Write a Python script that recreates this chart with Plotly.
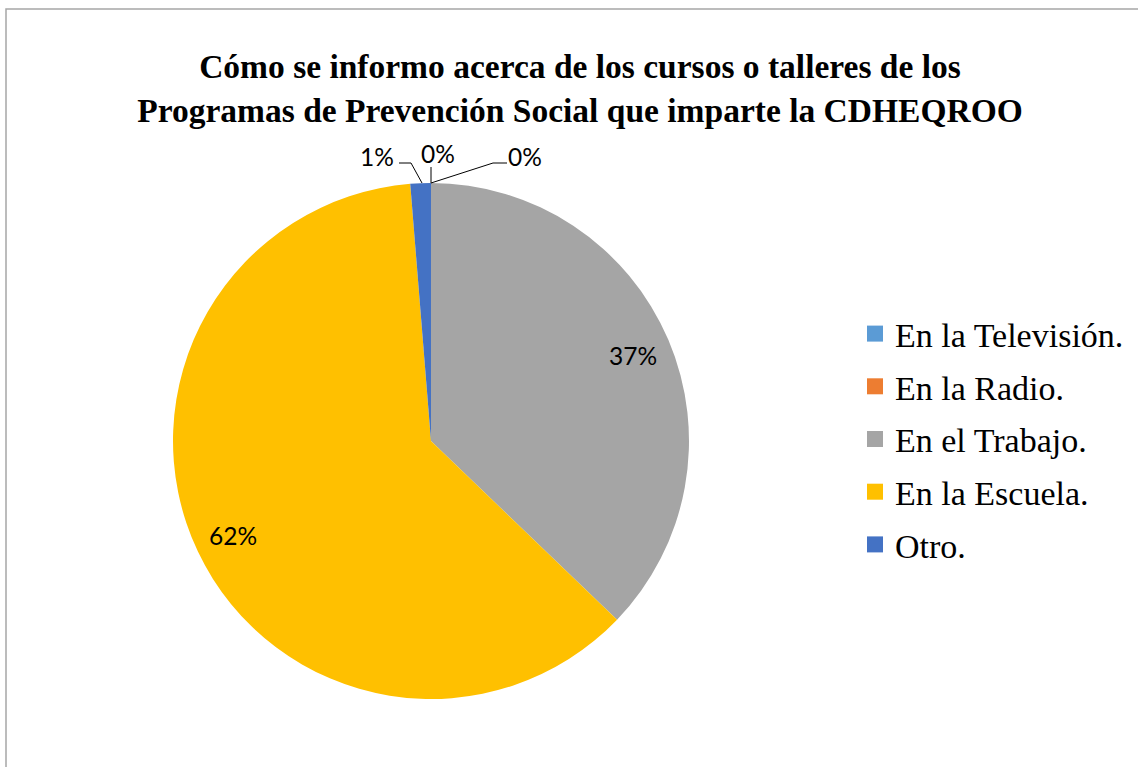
import math
import plotly.graph_objects as go

categories = ["En la Televisión.", "En la Radio.", "En el Trabajo.", "En la Escuela.", "Otro."]
counts = [0, 0, 29, 48, 1]
colors = ["#5B9BD5", "#ED7D31", "#A5A5A5", "#FFC000", "#4472C4"]

W, H = 1138, 767


def px(x):
    return x / W


def py(y):
    return 1 - y / H


# pie geometry (pixels)
CX, CY, R = 431, 441, 258

fig = go.Figure(go.Pie(
    labels=categories,
    values=counts,
    marker=dict(colors=colors, line=dict(width=0)),
    sort=False,
    direction="clockwise",
    rotation=0,
    textinfo="none",
    domain=dict(x=[px(CX - R), px(CX + R)], y=[py(CY + R), py(CY - R)]),
    hoverinfo="label+percent",
    showlegend=False,
))

# legend entries (one per category, so spacing can be set with tracegroupgap)
for i, (cat, col) in enumerate(zip(categories, colors)):
    fig.add_trace(go.Scatter(
        x=[None], y=[None], mode="markers", name=cat, legendgroup=f"g{i}",
        marker=dict(symbol="square", size=16, color=col), showlegend=True,
        hoverinfo="skip",
    ))

label_font = dict(family="Lato", size=24.5, color="#000000")
annotations = []
shapes = []

# percentage labels for the large slices, placed along the slice mid-angle
total = sum(counts)
cum = 0
for v in counts:
    frac = v / total
    mid = (cum + frac / 2) * 2 * math.pi
    cum += frac
    if frac >= 0.05:
        rr = 0.85 * R
        x = CX + rr * math.sin(mid)
        y = CY - rr * math.cos(mid)
        annotations.append(dict(
            x=px(x), y=py(y), xref="paper", yref="paper", text=f"{frac:.0%}",
            showarrow=False, font=label_font, xanchor="center", yanchor="middle"))

# labels for the tiny slices with leader lines
small_labels = [
    (counts[4], 377, 156, [(399, 163), (411, 163), (422, 183)]),
    (counts[0], 438, 153, [(431, 167), (431, 183)]),
    (counts[1], 525, 156, [(507, 163), (493, 163), (431, 183)]),
]
for v, x, y, pts in small_labels:
    annotations.append(dict(
        x=px(x), y=py(y), xref="paper", yref="paper", text=f"{v / total:.0%}",
        showarrow=False, font=label_font, xanchor="center", yanchor="middle"))
    path = "M " + " L ".join(f"{px(a)},{py(b)}" for a, b in pts)
    shapes.append(dict(type="path", path=path, xref="paper", yref="paper",
                       line=dict(color="#000000", width=1)))

# chart-area border (left and top visible)
shapes.append(dict(type="path", xref="paper", yref="paper",
                   path=f"M {px(6)},{py(770)} L {px(6)},{py(9)} L {px(1140)},{py(9)}",
                   line=dict(color="#A6A6A6", width=1.5)))

fig.update_layout(
    width=W, height=H,
    margin=dict(l=0, r=0, t=0, b=0),
    paper_bgcolor="#FFFFFF",
    plot_bgcolor="#FFFFFF",
    xaxis=dict(visible=False),
    yaxis=dict(visible=False),
    title=dict(
        text="<b>Cómo se informo acerca de los cursos o talleres de los<br>Programas de Prevención Social que imparte la CDHEQROO</b>",
        x=px(580), xanchor="center", y=py(78), yanchor="middle",
        font=dict(family="Liberation Serif", size=33.5, color="#000000"),
    ),
    showlegend=True,
    legend=dict(
        x=px(855), y=py(305), xanchor="left", yanchor="top",
        font=dict(family="Liberation Serif", size=34, color="#000000"),
        bgcolor="rgba(0,0,0,0)",
        tracegroupgap=5.5,
        itemclick=False, itemdoubleclick=False,
    ),
    annotations=annotations,
    shapes=shapes,
)

fig.write_html("out.html", config={"displayModeBar": False},
               post_script="document.body.style.margin='0';")
